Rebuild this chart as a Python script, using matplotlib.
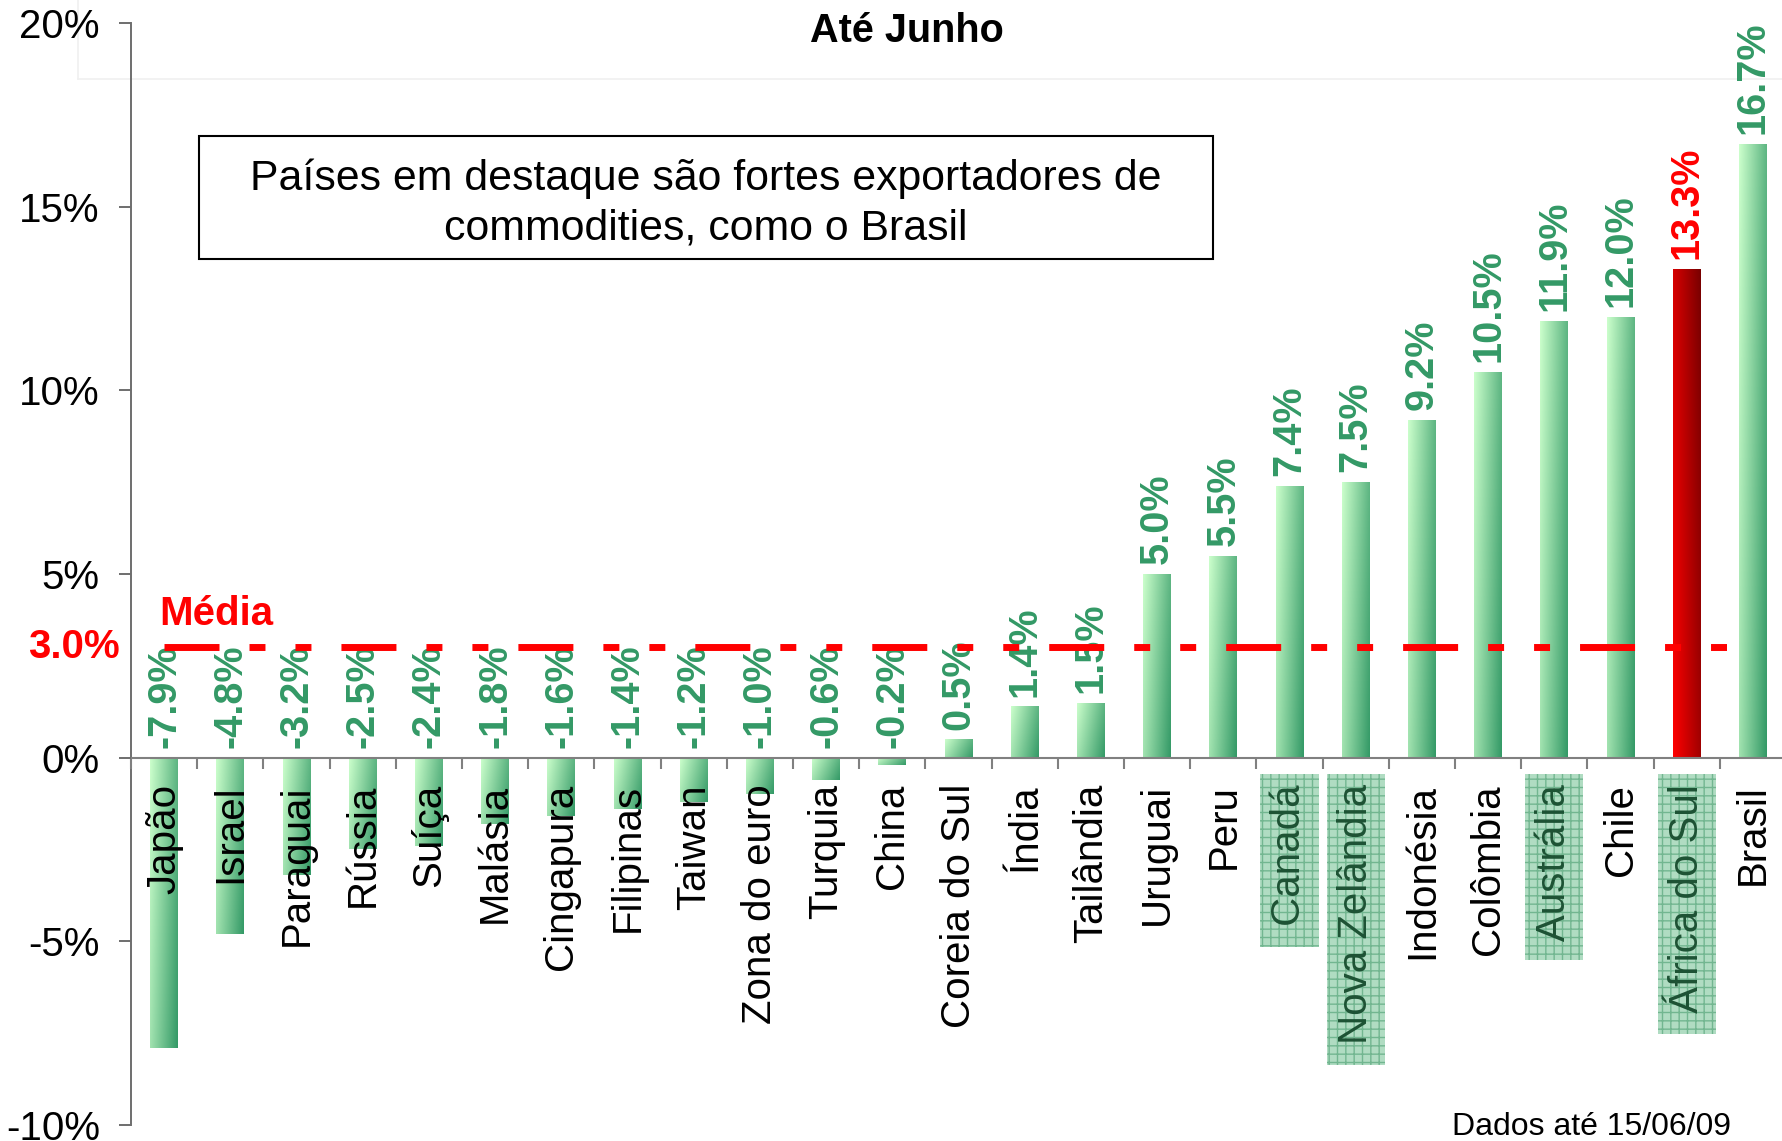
import numpy as np
import matplotlib
matplotlib.use("Agg")
import matplotlib.pyplot as plt
from matplotlib.patches import Rectangle
from matplotlib.lines import Line2D
from matplotlib.colors import to_rgb

plt.rcParams['font.family'] = ['Liberation Sans', 'DejaVu Sans']
plt.rcParams['lines.scale_dashes'] = False

# ---------------- data ----------------
countries = ["Japão", "Israel", "Paraguai", "Rússia", "Suíça", "Malásia", "Cingapura",
             "Filipinas", "Taiwan", "Zona do euro", "Turquia", "China", "Coreia do Sul",
             "Índia", "Tailândia", "Uruguai", "Peru", "Canadá", "Nova Zelândia",
             "Indonésia", "Colômbia", "Austrália", "Chile", "África do Sul", "Brasil"]
values = [-7.9, -4.8, -3.2, -2.5, -2.4, -1.8, -1.6, -1.4, -1.2, -1.0, -0.6, -0.2, 0.5,
          1.4, 1.5, 5.0, 5.5, 7.4, 7.5, 9.2, 10.5, 11.9, 12.0, 13.3, 16.7]
media = 3.0
highlighted = ["Canadá", "Nova Zelândia", "Austrália", "África do Sul"]
red_bar = "África do Sul"
yticks = [-10, -5, 0, 5, 10, 15, 20]
ytick_labels = ["-10%", "-5%", "0%", "5%", "10%", "15%", "20%"]
title = "Até Junho"
note = "Países em destaque são fortes exportadores de\ncommodities, como o Brasil"
source = "Dados até 15/06/09"

GREEN_TXT = "#339966"
G_LIGHT, G_DARK = to_rgb("#ccffcc"), to_rgb("#339966")
R_LIGHT, R_DARK = to_rgb("#ff0000"), to_rgb("#780000")
AXC = "#808080"

W, H = 1782, 1141
fig = plt.figure(figsize=(W / 100, H / 100), dpi=100)

# faint plot-area frame of the original chart
fig.add_artist(Line2D([78 / W, 78 / W], [1, 1 - 79 / H], transform=fig.transFigure,
                      color='#f0f0f0', lw=1.2, zorder=0))
fig.add_artist(Line2D([78 / W, 1], [1 - 79 / H, 1 - 79 / H], transform=fig.transFigure,
                      color='#f0f0f0', lw=1.2, zorder=0))

ax = fig.add_axes([131 / W, 16 / H, 1655 / W, 1102 / H])
ax.patch.set_alpha(0)

x = np.arange(len(countries))
bars = ax.bar(x, values, width=0.42, color='none', edgecolor='none', zorder=1)

# gradient fill for each bar
nx, ny = 64, 256
u = np.linspace(0, 1, nx)[None, :]
v = np.linspace(0, 1, ny)[:, None]  # 0 at top row
for name, b in zip(countries, bars):
    x0, w = b.get_x(), b.get_width()
    y0, h = b.get_y(), b.get_height()
    ylo, yhi = min(y0, y0 + h), max(y0, y0 + h)
    if name == red_bar:
        t = np.clip(0.7 * u + 0.3 * (1 - v), 0, 1)
        c0, c1 = R_LIGHT, R_DARK
    else:
        t = np.clip(0.72 * u + 0.28 * v, 0, 1)
        c0, c1 = G_LIGHT, G_DARK
    img = np.array(c0)[None, None, :] * (1 - t)[..., None] + np.array(c1)[None, None, :] * t[..., None]
    im = ax.imshow(img, extent=(x0, x0 + w, ylo, yhi), origin='upper',
                   aspect='auto', interpolation='bilinear', zorder=1)
    im.set_clip_path(b)

# value labels
for name, xi, val in zip(countries, x, values):
    col = "#ff0000" if name == red_bar else GREEN_TXT
    ax.annotate(f"{val:.1f}%", xy=(xi, max(val, 0)), xytext=(0, 7),
                textcoords='offset points', rotation=90, ha='center', va='bottom',
                fontsize=28.5, fontweight='bold', color=col, zorder=4,
                annotation_clip=False)

# average line
ax.plot([x[0], x[-1]], [media, media], color='#ff0000', lw=5,
        dashes=(39.6, 21.6, 11.5, 21.6, 11.5, 21.6), solid_capstyle='butt',
        dash_capstyle='butt', zorder=5)
ax.text(-0.08, media + 0.9, "Média", color='#ff0000', fontsize=29, fontweight='bold',
        ha='left', va='center', zorder=6)
ax.text(-0.007, media, f"{media:.1f}%", transform=ax.get_yaxis_transform(),
        color='#ff0000', fontsize=29, fontweight='bold', ha='right', va='center',
        clip_on=False)

# axes styling
ax.set_xlim(-0.5, 24.5)
ax.set_ylim(-10, 20)
ax.set_axisbelow(False)
ax.xaxis.set_zorder(3)
ax.yaxis.set_zorder(3)
for s in ['top', 'right']:
    ax.spines[s].set_visible(False)
ax.spines['bottom'].set_position(('data', 0))
ax.spines['bottom'].set_color(AXC)
ax.spines['bottom'].set_linewidth(1.5)
ax.spines['bottom'].set_zorder(3)
ax.spines['left'].set_color('#6e6e6e')
ax.spines['left'].set_linewidth(1.4)

ax.set_yticks(yticks)
ax.set_yticklabels(ytick_labels, fontsize=29)
ax.tick_params(axis='y', direction='out', length=8.5, width=1.4, color='#6e6e6e', pad=14)

ax.set_xticks(np.arange(-0.5, len(countries), 1))
ax.set_xticklabels([])
ax.tick_params(axis='x', which='major', direction='out', length=8, width=1.5, color=AXC)
ax.set_xticks(x, minor=True)
tick_texts = [(" " + c) if c in highlighted else c for c in countries]
ax.set_xticklabels(tick_texts, minor=True, rotation=90, fontsize=29, va='top', ha='center')
ax.tick_params(axis='x', which='minor', length=0, pad=19)
for lab in ax.get_xticklabels(minor=True):
    if lab.get_text().strip() in highlighted:
        lab.set_color('#1d5234')
        lab.set_bbox(dict(boxstyle='square,pad=0.25', facecolor='#b0dcc2',
                          edgecolor='#72b690', hatch='++', linewidth=0))

# title, note box, source
fig.text(907 / W, 1 - 31 / H, title, fontsize=28.5, fontweight='bold', ha='center', va='center')
fig.add_artist(Rectangle((199 / W, 1 - 259 / H), 1014 / W, 123 / H, transform=fig.transFigure,
                         facecolor='white', edgecolor='black', lw=1.5, zorder=3))
fig.text(706 / W, 1 - 203.5 / H, note, fontsize=30.8, ha='center', va='center',
         linespacing=1.33, zorder=4)
fig.text(1731 / W, 1 - 1127 / H, source, fontsize=23, ha='right', va='center')

fig.savefig("out.png", dpi=100)
